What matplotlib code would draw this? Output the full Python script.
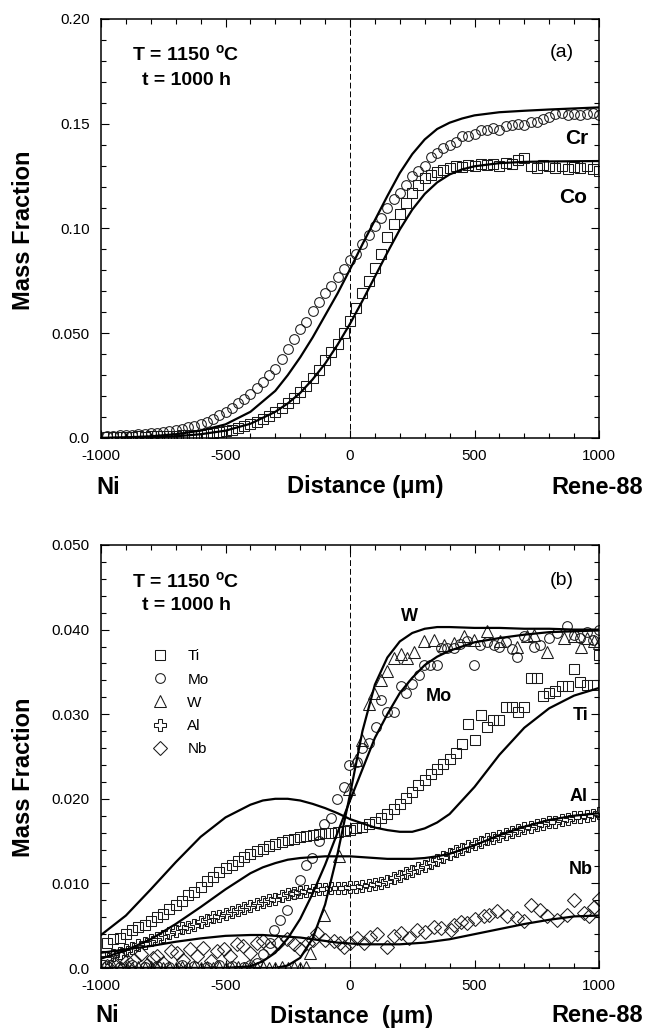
import matplotlib
matplotlib.use("Agg")
import matplotlib.pyplot as plt
from matplotlib.ticker import FixedLocator, MultipleLocator

plt.rcParams['font.family'] = ['Liberation Sans', 'DejaVu Sans']
plt.rcParams['mathtext.fontset'] = 'custom'
plt.rcParams['mathtext.rm'] = 'Liberation Sans'
plt.rcParams['mathtext.bf'] = 'Liberation Sans:bold'
plt.rcParams['mathtext.it'] = 'Liberation Sans:italic'

# ---------------- panel (a) data ----------------
cr_x = [-975, -950, -925, -900, -875, -850, -825, -800, -775, -750, -725, -700, -675, -650, -625, -600,
        -575, -550, -525, -500, -475, -450, -425, -400, -375, -350, -325, -300, -275, -250, -225, -200,
        -175, -150, -125, -100, -75, -50, -25, 0, 25, 50, 75, 100, 125, 150, 175, 200, 225, 250, 275, 300,
        325, 350, 375, 400, 425, 450, 475, 500, 525, 550, 575, 600, 625, 650, 675, 700, 725, 750, 775, 800,
        825, 850, 875, 900, 925, 950, 975, 1000]
cr_y = [0.0010, 0.0011, 0.0013, 0.0014, 0.0016, 0.0018, 0.0020, 0.0023, 0.0026, 0.0030, 0.0034, 0.0039,
        0.0045, 0.0051, 0.0058, 0.0066, 0.0078, 0.0092, 0.0108, 0.0125, 0.0145, 0.0166, 0.0188, 0.0210,
        0.0238, 0.0268, 0.0299, 0.0330, 0.0378, 0.0425, 0.0474, 0.0520, 0.0556, 0.0605, 0.0648, 0.0690,
        0.0726, 0.0770, 0.0805, 0.0850, 0.0880, 0.0925, 0.0970, 0.1010, 0.1050, 0.1100, 0.1140, 0.1170,
        0.1210, 0.1250, 0.1275, 0.1300, 0.1340, 0.1360, 0.1385, 0.1400, 0.1415, 0.1440, 0.1440, 0.1450,
        0.1470, 0.1470, 0.1480, 0.1470, 0.1490, 0.1495, 0.1500, 0.1495, 0.1510, 0.1510, 0.1525, 0.1530,
        0.1545, 0.1550, 0.1540, 0.1545, 0.1540, 0.1545, 0.1550, 0.1540]

co_x = list(cr_x)
co_y = [0.0005, 0.0006, 0.0004, 0.0007, 0.0006, 0.0008, 0.0007, 0.0009, 0.0008, 0.0010, 0.0009, 0.0011,
        0.0012, 0.0013, 0.0014, 0.0016, 0.0019, 0.0022, 0.0027, 0.0032, 0.0039, 0.0046, 0.0055, 0.0065,
        0.0077, 0.0091, 0.0106, 0.0123, 0.0143, 0.0165, 0.0190, 0.0218, 0.0250, 0.0285, 0.0325, 0.0370,
        0.0410, 0.0450, 0.0500, 0.0560, 0.0620, 0.0690, 0.0750, 0.0810, 0.0880, 0.0960, 0.1020, 0.1070,
        0.1120, 0.1170, 0.1210, 0.1240, 0.1255, 0.1270, 0.1280, 0.1290, 0.1300, 0.1295, 0.1305, 0.1300,
        0.1310, 0.1305, 0.1310, 0.1300, 0.1315, 0.1310, 0.1325, 0.1335, 0.1300, 0.1290, 0.1305, 0.1300,
        0.1290, 0.1300, 0.1285, 0.1295, 0.1290, 0.1300, 0.1285, 0.1275]

crfit_x = [-1000, -900, -800, -700, -600, -500, -400, -300, -250, -200, -150, -100, -50, 0, 50, 100,
           150, 200, 250, 300, 350, 400, 450, 500, 600, 700, 800, 900, 1000]
crfit_y = [0.0000, 0.0003, 0.0008, 0.0018, 0.0035, 0.0065, 0.0125, 0.0225, 0.0300, 0.0385, 0.0480,
           0.0585, 0.0690, 0.0805, 0.0925, 0.1040, 0.1155, 0.1265, 0.1355, 0.1425, 0.1475, 0.1505,
           0.1525, 0.1540, 0.1555, 0.1562, 0.1568, 0.1573, 0.1578]

cofit_x = [-1000, -800, -700, -600, -500, -400, -300, -250, -200, -150, -100, -50, 0, 50, 100, 150,
           200, 250, 300, 350, 400, 450, 500, 600, 700, 800, 1000]
cofit_y = [0.0000, 0.0003, 0.0008, 0.0018, 0.0035, 0.0068, 0.0125, 0.0165, 0.0215, 0.0280, 0.0355,
           0.0445, 0.0545, 0.0655, 0.0770, 0.0885, 0.0995, 0.1090, 0.1165, 0.1220, 0.1258, 0.1282,
           0.1297, 0.1312, 0.1318, 0.1320, 0.1322]

# ---------------- panel (b) data ----------------
ti_x = [-975, -950, -925, -900, -875, -850, -825, -800, -775, -750, -725, -700, -675, -650, -625, -600,
        -575, -550, -525, -500, -475, -450, -425, -400, -375, -350, -325, -300, -275, -250, -225, -200,
        -175, -150, -125, -100, -75, -50, -25, 0, 25, 50, 75, 100, 125, 150, 175, 200, 225, 250, 275, 300,
        325, 350, 375, 400, 425, 450, 475, 500, 525, 550, 575, 600, 625, 650, 675, 700, 725, 750, 775, 800,
        825, 850, 875, 900, 925, 950, 975, 1000]
ti_y = [0.0030, 0.0034, 0.0036, 0.0040, 0.0045, 0.0048, 0.0051, 0.0055, 0.0060, 0.0064, 0.0070, 0.0075,
        0.0079, 0.0086, 0.0090, 0.0096, 0.0103, 0.0108, 0.0113, 0.0118, 0.0122, 0.0127, 0.0131, 0.0135,
        0.0138, 0.0141, 0.0144, 0.0147, 0.0149, 0.0151, 0.0153, 0.0155, 0.0156, 0.0157, 0.0158, 0.0159,
        0.0160, 0.0161, 0.0162, 0.0163, 0.0165, 0.0167, 0.0170, 0.0173, 0.0177, 0.0182, 0.0188, 0.0194,
        0.0201, 0.0208, 0.0216, 0.0222, 0.0229, 0.0235, 0.0241, 0.0247, 0.0254, 0.0265, 0.0289, 0.0270,
        0.0299, 0.0285, 0.0293, 0.0293, 0.0309, 0.0309, 0.0303, 0.0309, 0.0343, 0.0343, 0.0321, 0.0325,
        0.0327, 0.0333, 0.0333, 0.0353, 0.0338, 0.0334, 0.0334, 0.0370]

mo_x = [-975, -925, -875, -825, -775, -725, -675, -625, -575, -525, -475, -425, -400, -375, -348, -320,
        -305, -280, -252, -225, -200, -178, -151, -124, -104, -78, -52, -25, -5, 29, 49, 76, 103, 123,
        149, 176, 203, 223, 250, 277, 297, 323, 350, 364, 390, 417, 440, 471, 497, 524, 550, 578, 600,
        625, 650, 672, 700, 738, 765, 800, 830, 872, 900, 925, 953, 975, 1000]
mo_y = [0.0002, 0.0001, 0.0003, 0.0001, 0.0002, 0.0001, 0.0003, 0.0002, 0.0001, 0.0004, 0.0002, 0.0001,
        0.0003, 0.0006, 0.0017, 0.0030, 0.0045, 0.0057, 0.0069, 0.0087, 0.0104, 0.0122, 0.0130, 0.0150,
        0.0170, 0.0177, 0.0200, 0.0214, 0.0240, 0.0244, 0.0260, 0.0266, 0.0285, 0.0317, 0.0303, 0.0303,
        0.0333, 0.0325, 0.0336, 0.0346, 0.0358, 0.0358, 0.0358, 0.0378, 0.0378, 0.0378, 0.0383, 0.0386,
        0.0358, 0.0382, 0.0385, 0.0382, 0.0380, 0.0385, 0.0377, 0.0368, 0.0392, 0.0380, 0.0382, 0.0390,
        0.0396, 0.0404, 0.0394, 0.0390, 0.0397, 0.0388, 0.0399]

w_x = [-975, -950, -925, -900, -875, -850, -825, -800, -775, -750, -725, -700, -675, -650, -625, -600,
       -575, -550, -525, -500, -475, -450, -425, -400, -375, -350, -325, -300, -275, -250, -225, -200,
       -175, -159, -105, -45, -5, 25, 49, 76, 96, 123, 150, 176, 203, 230, 257, 297, 337, 377, 417, 457,
       497, 551, 604, 672, 712, 738, 792, 859, 900, 926, 953, 979, 1000]
w_y = [0.0000, 0.0001, 0.0000, 0.0001, 0.0000, 0.0001, 0.0000, 0.0001, 0.0000, 0.0000, 0.0001, 0.0000,
       0.0001, 0.0000, 0.0001, 0.0000, 0.0001, 0.0000, 0.0001, 0.0000, 0.0000, 0.0001, 0.0000, 0.0001,
       0.0000, 0.0001, 0.0000, 0.0000, 0.0001, 0.0000, 0.0001, 0.0000, 0.0001, 0.0018, 0.0063, 0.0132,
       0.0211, 0.0246, 0.0270, 0.0312, 0.0325, 0.0340, 0.0351, 0.0367, 0.0371, 0.0366, 0.0373, 0.0386,
       0.0388, 0.0382, 0.0384, 0.0392, 0.0388, 0.0398, 0.0386, 0.0380, 0.0392, 0.0394, 0.0374, 0.0390,
       0.0392, 0.0380, 0.0390, 0.0386, 0.0384]

al_x = list(ti_x)
al_y = [0.0012, 0.0015, 0.0018, 0.0021, 0.0024, 0.0027, 0.0030, 0.0033, 0.0035, 0.0038, 0.0041, 0.0044,
        0.0047, 0.0049, 0.0051, 0.0054, 0.0057, 0.0060, 0.0062, 0.0064, 0.0066, 0.0069, 0.0071, 0.0073,
        0.0076, 0.0078, 0.0080, 0.0082, 0.0085, 0.0087, 0.0089, 0.0090, 0.0091, 0.0092, 0.0093, 0.0093,
        0.0094, 0.0094, 0.0095, 0.0096, 0.0096, 0.0097, 0.0098, 0.0099, 0.0101, 0.0103, 0.0106, 0.0109,
        0.0112, 0.0115, 0.0118, 0.0121, 0.0124, 0.0128, 0.0131, 0.0135, 0.0138, 0.0141, 0.0144, 0.0147,
        0.0149, 0.0152, 0.0154, 0.0156, 0.0158, 0.0161, 0.0163, 0.0165, 0.0167, 0.0169, 0.0170, 0.0172,
        0.0173, 0.0175, 0.0176, 0.0178, 0.0179, 0.0180, 0.0181, 0.0183]

nb_x = [-975, -948, -920, -895, -868, -840, -815, -790, -775, -750, -720, -695, -670, -641, -615, -590,
        -560, -535, -508, -480, -455, -428, -400, -375, -348, -320, -290, -255, -225, -199, -170, -150,
        -132, -100, -65, -40, -25, 0, 29, 55, 82, 110, 149, 175, 203, 235, 270, 300, 337, 365, 404, 417,
        445, 471, 500, 537, 560, 591, 632, 672, 700, 725, 765, 792, 832, 873, 899, 939, 960, 979, 1000]
nb_y = [0.0002, 0.0006, 0.0012, 0.0008, 0.0010, 0.0016, 0.0004, 0.0012, 0.0014, 0.0006, 0.0020, 0.0018,
        0.0010, 0.0022, 0.0014, 0.0024, 0.0008, 0.0020, 0.0022, 0.0014, 0.0028, 0.0026, 0.0018, 0.0030,
        0.0032, 0.0024, 0.0030, 0.0034, 0.0028, 0.0022, 0.0030, 0.0033, 0.0041, 0.0033, 0.0032, 0.0030,
        0.0025, 0.0030, 0.0035, 0.0030, 0.0037, 0.0040, 0.0025, 0.0038, 0.0041, 0.0036, 0.0045, 0.0042,
        0.0049, 0.0047, 0.0045, 0.0051, 0.0054, 0.0053, 0.0058, 0.0061, 0.0063, 0.0067, 0.0061, 0.0059,
        0.0055, 0.0074, 0.0068, 0.0061, 0.0057, 0.0063, 0.0080, 0.0065, 0.0062, 0.0072, 0.0082]

fit_x = [-1000, -900, -800, -700, -600, -500, -400, -350, -300, -250, -200, -150, -100, -50, 0, 50,
         100, 150, 200, 250, 300, 350, 400, 500, 600, 700, 800, 900, 1000]
tifit_y = [0.0039, 0.0062, 0.0093, 0.0125, 0.0155, 0.0178, 0.0193, 0.0198, 0.0200, 0.0200, 0.0198,
           0.0194, 0.0189, 0.0183, 0.0176, 0.0171, 0.0166, 0.0163, 0.0161, 0.0161, 0.0165, 0.0172,
           0.0182, 0.0214, 0.0252, 0.0284, 0.0307, 0.0322, 0.0331]
mofit_y = [0.0000, 0.0000, 0.0000, 0.0000, 0.0000, 0.0000, 0.0002, 0.0008, 0.0018, 0.0035, 0.0058,
           0.0088, 0.0122, 0.0160, 0.0198, 0.0235, 0.0272, 0.0300, 0.0325, 0.0343, 0.0358, 0.0368,
           0.0375, 0.0385, 0.0390, 0.0394, 0.0397, 0.0398, 0.0399]
wfit_y = [0.0000, 0.0000, 0.0000, 0.0000, 0.0000, 0.0000, 0.0000, 0.0000, 0.0000, 0.0003, 0.0012,
          0.0035, 0.0075, 0.0135, 0.0205, 0.0280, 0.0335, 0.0367, 0.0386, 0.0396, 0.0401, 0.0403,
          0.0403, 0.0402, 0.0402, 0.0401, 0.0401, 0.0400, 0.0400]
alfit_y = [0.0011, 0.0021, 0.0034, 0.0052, 0.0072, 0.0093, 0.0112, 0.0119, 0.0124, 0.0128, 0.0130,
           0.0131, 0.0132, 0.0132, 0.0132, 0.0131, 0.0130, 0.0129, 0.0129, 0.0129, 0.0130, 0.0132,
           0.0135, 0.0145, 0.0157, 0.0167, 0.0175, 0.0180, 0.0183]
nbfit_y = [0.0018, 0.0022, 0.0026, 0.0031, 0.0035, 0.0038, 0.0039, 0.0039, 0.0038, 0.0037, 0.0036,
           0.0034, 0.0032, 0.0030, 0.0029, 0.0028, 0.0028, 0.0028, 0.0028, 0.0029, 0.0030, 0.0032,
           0.0034, 0.0040, 0.0046, 0.0052, 0.0057, 0.0061, 0.0062]

xticks = [-1000, -500, 0, 500, 1000]
xticklabels = ['-1000', '-500', '0', '500', '1000']
ya_ticks = [0.0, 0.05, 0.10, 0.15, 0.20]
ya_labels = ['0.0', '0.050', '0.10', '0.15', '0.20']
yb_ticks = [0.0, 0.01, 0.02, 0.03, 0.04, 0.05]
yb_labels = ['0.0', '0.010', '0.020', '0.030', '0.040', '0.050']

# ---------------- figure ----------------
W, H = 646, 1036
fig = plt.figure(figsize=(W / 100, H / 100), dpi=100)

def px_ax(l, t, r, b):
    return fig.add_axes([l / W, 1 - b / H, (r - l) / W, (b - t) / H])

axa = px_ax(101, 19, 599, 438)
axb = px_ax(101, 545, 599, 968)

mk = dict(linestyle='none', markerfacecolor='none', markeredgecolor='0.1', markeredgewidth=0.75)
line_kw = dict(color='black', lw=1.6, zorder=5)

def style(ax, yt, yl, ymax, yminor):
    ax.set_xlim(-1000, 1000)
    ax.set_ylim(0, ymax)
    ax.xaxis.set_major_locator(FixedLocator(xticks))
    ax.set_xticklabels(xticklabels)
    ax.xaxis.set_minor_locator(MultipleLocator(100))
    ax.yaxis.set_major_locator(FixedLocator(yt))
    ax.set_yticklabels(yl)
    ax.yaxis.set_minor_locator(MultipleLocator(yminor))
    ax.tick_params(which='both', direction='in', top=True, right=True, width=0.8,
                   labelsize=11, pad=8)
    ax.tick_params(which='major', length=6)
    ax.tick_params(which='minor', length=3.5)
    for s in ax.spines.values():
        s.set_linewidth(1.1)
    ax.axvline(0, color='black', lw=0.7, ls=(0, (6, 3)), zorder=1)

# panel (a)
axa.plot(cr_x, cr_y, marker='o', ms=7, **mk)
axa.plot(co_x, co_y, marker='s', ms=7, **mk)
axa.plot(crfit_x, crfit_y, **line_kw)
axa.plot(cofit_x, cofit_y, **line_kw)
style(axa, ya_ticks, ya_labels, 0.20, 0.01)
axa.text(-660, 0.1835, r'T = 1150 $^{\mathbf{o}}$C', fontsize=14, fontweight='bold', ha='center', va='center')
axa.text(-655, 0.1705, 't = 1000 h', fontsize=14, fontweight='bold', ha='center', va='center')
axa.text(850, 0.1840, '(a)', fontsize=14, ha='center', va='center')
axa.text(910, 0.1430, 'Cr', fontsize=15, fontweight='bold', ha='center', va='center')
axa.text(895, 0.1150, 'Co', fontsize=15, fontweight='bold', ha='center', va='center')

# panel (b)
h_ti, = axb.plot(ti_x, ti_y, marker='s', ms=7, label='Ti', **mk)
h_mo, = axb.plot(mo_x, mo_y, marker='o', ms=7, label='Mo', **mk)
h_w, = axb.plot(w_x, w_y, marker='^', ms=8, label='W', **mk)
h_al, = axb.plot(al_x, al_y, marker='P', ms=8.5, label='Al', **mk)
h_nb, = axb.plot(nb_x, nb_y, marker='D', ms=7.5, label='Nb', **mk)
for fy in (tifit_y, mofit_y, wfit_y, alfit_y, nbfit_y):
    axb.plot(fit_x, fy, **line_kw)
style(axb, yb_ticks, yb_labels, 0.05, 0.002)
axb.text(-660, 0.0458, r'T = 1150 $^{\mathbf{o}}$C', fontsize=14, fontweight='bold', ha='center', va='center')
axb.text(-655, 0.0428, 't = 1000 h', fontsize=14, fontweight='bold', ha='center', va='center')
axb.text(850, 0.0458, '(b)', fontsize=14, ha='center', va='center')
axb.text(240, 0.0416, 'W', fontsize=13, fontweight='bold', ha='center', va='center')
axb.text(355, 0.0321, 'Mo', fontsize=13, fontweight='bold', ha='center', va='center')
axb.text(926, 0.0299, 'Ti', fontsize=13, fontweight='bold', ha='center', va='center')
axb.text(917, 0.0203, 'Al', fontsize=13, fontweight='bold', ha='center', va='center')
axb.text(926, 0.0116, 'Nb', fontsize=13, fontweight='bold', ha='center', va='center')
axb.legend(handles=[h_ti, h_mo, h_w, h_al, h_nb], loc='upper left', bbox_to_anchor=(0.103, 0.753),
           frameon=False, fontsize=11, numpoints=1, handlelength=1.0, handletextpad=1.3,
           labelspacing=0.6, borderpad=0, borderaxespad=0)

# outer labels
def ftext(x, y, s, **kw):
    fig.text(x / W, 1 - y / H, s, **kw)

big = dict(fontsize=17, fontweight='bold', va='center')
ftext(24, 230, 'Mass Fraction', rotation=90, ha='center', **big)
ftext(24, 777, 'Mass Fraction', rotation=90, ha='center', **big)
ftext(108, 488, 'Ni', ha='center', **big)
ftext(365, 486, 'Distance (μm)', ha='center', **big)
ftext(643, 488, 'Rene-88', ha='right', **big)
ftext(107, 1016, 'Ni', ha='center', **big)
ftext(352, 1016, 'Distance  (μm)', ha='center', **big)
ftext(643, 1016, 'Rene-88', ha='right', **big)

fig.savefig('out.png', dpi=100)
